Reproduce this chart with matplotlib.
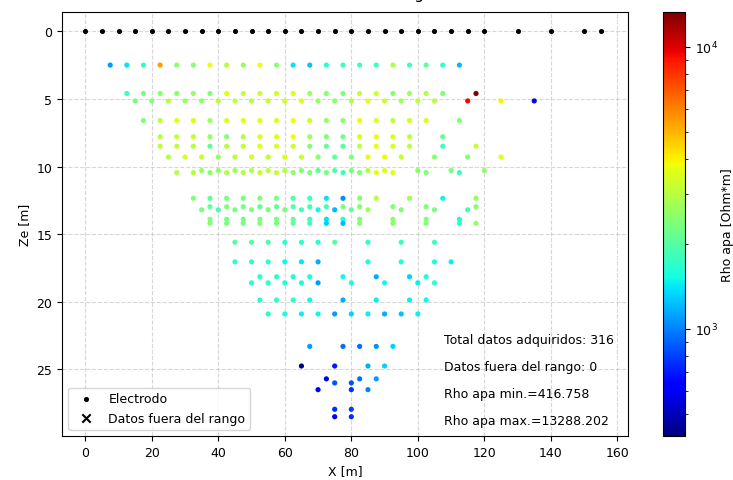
import numpy as np
import matplotlib
matplotlib.use("Agg")
import matplotlib.pyplot as plt
from matplotlib.colors import LogNorm

plt.rcParams['font.size'] = 9

# posiciones de los electrodos [m]
x_electrodos = [0, 5, 10, 15, 20, 25, 30, 35, 40, 45, 50, 55, 60, 65, 70, 75, 80, 85, 90, 95,
                100, 105, 110, 115, 120, 130, 140, 150, 155]

# puntos de la pseudoseccion: X [m], Ze [m], Rho apa [Ohm*m]
x_datos = [
    7.5, 12.5, 17.5, 22.5, 27.5, 32.5, 37.5, 42.5, 47.5, 52.5, 57.5, 62.5, 67.5, 72.5, 77.5, 82.5, 87.5, 92.5, 97.5, 102.5, 107.5, 112.5,
    12.5, 17.5, 22.5, 27.5, 32.5, 37.5, 42.5, 47.5, 52.5, 57.5, 62.5, 67.5, 72.5, 77.5, 82.5, 87.5, 92.5, 97.5, 102.5, 107.5, 117.5,
    15, 20, 25, 30, 35, 40, 45, 50, 55, 60, 65, 70, 75, 80, 85, 90, 95, 100, 105, 115, 125, 135,
    17.5, 22.5, 27.5, 32.5, 37.5, 42.5, 47.5, 52.5, 57.5, 62.5, 67.5, 72.5, 77.5, 82.5, 87.5, 92.5, 97.5, 102.5, 112.5,
    22.5, 27.5, 32.5, 37.5, 42.5, 47.5, 52.5, 57.5, 62.5, 67.5, 72.5, 77.5, 82.5, 87.5, 92.5, 97.5, 107.5,
    22.5, 27.5, 32.5, 37.5, 42.5, 47.5, 52.5, 57.5, 62.5, 67.5, 72.5, 77.5, 82.5, 87.5, 92.5, 97.5, 107.5, 117.5,
    25, 30, 35, 40, 45, 50, 55, 60, 65, 70, 75, 80, 85, 90, 95, 105, 115, 125,
    27.5, 32.5, 35, 37.5, 40, 42.5, 45, 47.5, 50, 52.5, 55, 57.5, 60, 62.5, 65, 67.5, 70, 72.5, 75, 77.5, 80, 82.5, 85, 87.5, 90, 92.5, 100, 102.5, 110, 112.5, 120,
    32.5, 37.5, 42.5, 47.5, 52.5, 57.5, 62.5, 67.5, 72.5, 77.5, 82.5, 87.5, 97.5, 107.5, 117.5,
    35, 37.5, 40, 42.5, 45, 47.5, 50, 52.5, 55, 57.5, 60, 62.5, 65, 67.5, 70, 72.5, 75, 77.5, 80, 82.5, 85, 92.5, 95, 102.5, 105, 115, 117.5,
    37.5, 42.5, 47.5, 52.5, 57.5, 62.5, 67.5, 72.5, 77.5, 82.5, 92.5, 102.5, 112.5,
    37.5, 42.5, 47.5, 52.5, 57.5, 62.5, 67.5, 72.5, 77.5, 82.5, 92.5, 102.5, 112.5, 117.5,
    45, 50, 55, 60, 65, 70, 75, 85, 95, 105,
    45, 50, 55, 60, 65, 70, 85, 95, 105, 110,
    52.5, 57.5, 62.5, 67.5, 77.5, 87.5, 97.5, 102.5,
    50, 55, 60, 65, 70, 80, 90, 100, 105,
    52.5, 57.5, 62.5, 67.5, 77.5, 87.5, 97.5, 102.5,
    55, 60, 65, 70, 75, 80, 85, 90, 95, 100,
    67.5, 77.5, 82.5, 87.5, 92.5,
    65, 75, 85, 90,
    72.5, 82.5, 87.5, 75, 80, 70, 80, 85,
    75, 80, 75, 80,
]
ze_datos = (
    [2.5] * 22 + [4.6] * 21 + [5.15] * 22 + [6.6] * 19 + [7.8] * 17 + [8.5] * 18 + [9.3] * 18
    + [10.45, 10.45, 10.3, 10.45, 10.3, 10.45, 10.3, 10.45, 10.3, 10.45, 10.3, 10.45, 10.3, 10.45, 10.3, 10.45,
       10.3, 10.45, 10.3, 10.45, 10.3, 10.45, 10.3, 10.45, 10.3, 10.45, 10.3, 10.45, 10.3, 10.45, 10.3]
    + [12.35] * 15
    + [13.2, 12.97, 13.2, 12.97, 13.2, 12.97, 13.2, 12.97, 13.2, 12.97, 13.2, 12.97, 13.2, 12.97, 13.2, 12.97,
       13.2, 12.97, 13.2, 12.97, 13.2, 12.97, 13.2, 12.97, 13.2, 13.2, 12.97]
    + [13.9] * 13 + [14.2] * 14 + [15.6] * 10 + [17.05] * 10 + [18.15] * 8 + [18.6] * 9
    + [19.87] * 8 + [20.9] * 10 + [23.3] * 5 + [24.75] * 4
    + [25.7, 25.7, 25.7, 26.0, 26.0, 26.5, 26.5, 26.5]
    + [27.95, 27.95, 28.5, 28.5]
)
rho_datos = [
    1100, 1400, 1700, 5500, 2500, 2500, 3800, 3000, 2600, 3800, 2500, 1400, 1250, 1700, 1800, 1800, 1800, 2900, 1800, 2100, 1700, 1200,
    1800, 2300, 2500, 2500, 2600, 2400, 3600, 3200, 3300, 3300, 3500, 2700, 2500, 2400, 3200, 3300, 2500, 2700, 3000, 2400, 13288.202,
    2300, 2400, 3000, 2600, 2500, 3000, 3100, 3000, 3200, 3300, 3500, 2600, 2500, 3000, 3600, 3200, 2700, 3100, 3000, 9400, 4000, 600,
    2400, 3100, 3500, 3500, 2700, 3600, 3600, 3600, 3600, 3800, 3200, 2600, 2500, 3700, 3600, 3100, 3300, 3600, 2400,
    3000, 3200, 3200, 2600, 2500, 3000, 3500, 3600, 3800, 2700, 2400, 2200, 3600, 3700, 3500, 3100, 2100,
    3100, 3100, 3000, 2100, 3000, 3200, 3600, 3500, 3300, 2400, 2100, 2000, 3100, 3700, 3500, 3100, 1800, 3200,
    3000, 3500, 3200, 2600, 3000, 3300, 3100, 3500, 3200, 2500, 2100, 2400, 3600, 3700, 3200, 2500, 2400, 3600,
    3000, 3000, 2600, 2500, 2600, 3000, 2700, 3000, 2900, 3200, 3100, 3200, 3000, 2600, 2500, 2400, 2100, 2300, 2000, 1800,
    2300, 2400, 3000, 3600, 3500, 3600, 2500, 2400, 2300, 1800, 2500,
    2400, 2100, 2300, 2300, 2400, 2300, 2000, 1800, 1400, 1050, 2500, 3100, 2700, 1500, 2600,
    2300, 2100, 1900, 2400, 2300, 2300, 2400, 2100, 2400, 2100, 2300, 2000, 1800, 1900, 1500, 1900, 1200, 2300, 2100, 2500,
    2800, 2400, 2400, 2400, 2300, 1800, 2500,
    2400, 2300, 2300, 2400, 2300, 2100, 1800, 1400, 1600, 2400, 2500, 2400, 1600,
    2400, 2300, 2300, 2400, 2300, 2100, 1800, 1300, 1200, 2400, 2500, 2400, 1700, 2600,
    2000, 2000, 1900, 1700, 1700, 1700, 2000, 1700, 1800, 1800,
    1700, 1700, 1700, 1500, 1400, 1150, 1600, 1600, 1600, 1450,
    1700, 1700, 1600, 1600, 1500, 1150, 1300, 1600,
    1700, 1700, 1600, 1600, 1100, 1600, 1500, 1450, 1650,
    1700, 1700, 1700, 1500, 1150, 1450, 1450, 1500,
    1700, 1550, 1450, 1500, 1100, 1300, 1450, 1150, 1250, 1450,
    1100, 950, 950, 1050, 1300,
    416.758, 700, 1150, 1300,
    600, 950, 1100, 850, 850, 600, 750, 1000,
    750, 800, 600, 750,
]

x_fuera = []
ze_fuera = []

rho_min = min(rho_datos)
rho_max = max(rho_datos)

fig = plt.figure(figsize=(7.33, 4.81), dpi=100)
ax = fig.add_axes([62 / 733, 44 / 481, 566 / 733, 424 / 481])
cax = fig.add_axes([663 / 733, 44 / 481, 22 / 733, 424 / 481])

ax.scatter(x_electrodos, np.zeros(len(x_electrodos)), c='k', s=7, label='Electrodo', zorder=3)
ax.scatter(x_fuera, ze_fuera, c='k', marker='x', label='Datos fuera del rango')
sc = ax.scatter(x_datos, ze_datos, c=rho_datos, cmap='jet',
                norm=LogNorm(vmin=rho_min, vmax=rho_max), s=14, linewidths=0, zorder=3)

ax.set_xlim(-7, 163.2)
ax.invert_yaxis()
ax.set_xticks(np.arange(0, 161, 20))
ax.set_yticks(np.arange(0, 26, 5))
ax.set_xlabel('X [m]')
ax.set_ylabel('Ze [m]')
ax.set_title('Datos dentro del rango', fontsize=11, pad=10)
ax.grid(True, linestyle='--', alpha=0.5)
ax.set_axisbelow(True)
ax.legend(loc='lower left')

ax.text(108.0, 22.8, 'Total datos adquiridos: %d' % 316, va='center')
ax.text(108.0, 24.8, 'Datos fuera del rango: %d' % len(x_fuera), va='center')
ax.text(108.0, 26.8, 'Rho apa min.=%.3f' % rho_min, va='center')
ax.text(108.0, 28.8, 'Rho apa max.=%.3f' % rho_max, va='center')

cb = fig.colorbar(sc, cax=cax)
cb.set_label('Rho apa [Ohm*m]', labelpad=2)

fig.savefig('out.png', dpi=100)
